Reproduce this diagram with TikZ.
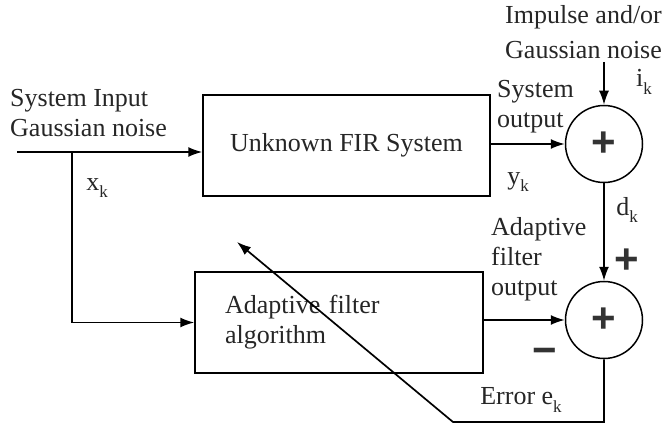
\documentclass[tikz,border=0pt]{standalone}
\usepackage{fontspec}
\setmainfont{Liberation Serif}
\newfontfamily\symfont{Liberation Sans}
\usetikzlibrary{arrows.meta}
\newcommand{\sbk}[1]{\raisebox{-0.28em}{\fontsize{17}{17}\selectfont #1}}
\begin{document}
\begin{tikzpicture}[x=1pt,y=-1pt,
  lbl/.style={inner sep=0pt, text=black!85, font=\fontsize{26}{30}\selectfont},
  blk/.style={draw, line width=1.5pt, rectangle, inner sep=0pt, text=black!85, font=\fontsize{26}{30}\selectfont},
  sumnode/.style={draw, circle, line width=1.5pt, minimum size=77pt, inner sep=0pt, text=black!80, font=\symfont\bfseries\fontsize{42}{42}\selectfont},
  conn/.style={line width=1.7pt},
  arr/.style={conn, -{Latex[length=14pt,width=10pt]}},
  sign/.style={inner sep=0pt, text=black!80, font=\symfont\bfseries\fontsize{42}{42}\selectfont}]
\useasboundingbox (0,0) rectangle (665,428);
% blocks
\node[blk, minimum width=287pt, minimum height=101pt] (sys) at (346.5,145.5) {Unknown FIR System};
\node[blk, minimum width=288pt, minimum height=101pt, text width=228pt, align=left, inner xsep=30pt] (adf) at (339,322.5) {Adaptive filter\\algorithm};
\node[sumnode] (s1) at (604,144) {\raisebox{-3pt}{+}};
\node[sumnode] (s2) at (604,320) {\raisebox{-3pt}{+}};
% free ends
\coordinate (in) at (17,152);
\coordinate (br) at (72,152);
\coordinate (nz) at (604,62);
\coordinate (fb) at (453,422);
\coordinate (tip) at (237,242);
% connectors
\draw[arr] (in) -- (in -| sys.west);
\draw[arr] (br) |- (adf.west);
\draw[arr] (sys.east |- s1.west) -- (s1.west);
\draw[arr] (nz) -- (s1.north);
\draw[arr] (s1.south) -- (s2.north);
\draw[arr] (adf.east |- s2.west) -- (s2.west);
\draw[arr] (s2.south) |- (fb) -- (tip);
% labels
\node[lbl, anchor=west, align=left] (inlbl) at (10,113) {System Input\\Gaussian noise};
\node[lbl] (xk) at (97,188) {x\sbk{k}};
\node[lbl, anchor=west, align=left] (sout) at (497,107) {System\\output};
\node[lbl] (yk) at (518,182) {y\sbk{k}};
\node[lbl, anchor=west, align=left, font=\fontsize{26}{35}\selectfont] (noise) at (505,32) {Impulse and/or\\Gaussian noise};
\node[lbl] (ik) at (644,82) {i\sbk{k}};
\node[lbl] (dk) at (627,210) {d\sbk{k}};
\node[lbl, anchor=west, align=left] (aout) at (491,259) {Adaptive\\filter\\output};
\node[sign] (pl) at (627,261) {+};
\node[sign] (mi) at (545,356) {\char"2212};
\node[lbl] (err) at (521,400) {Error e\sbk{k}};
\end{tikzpicture}
\end{document}
